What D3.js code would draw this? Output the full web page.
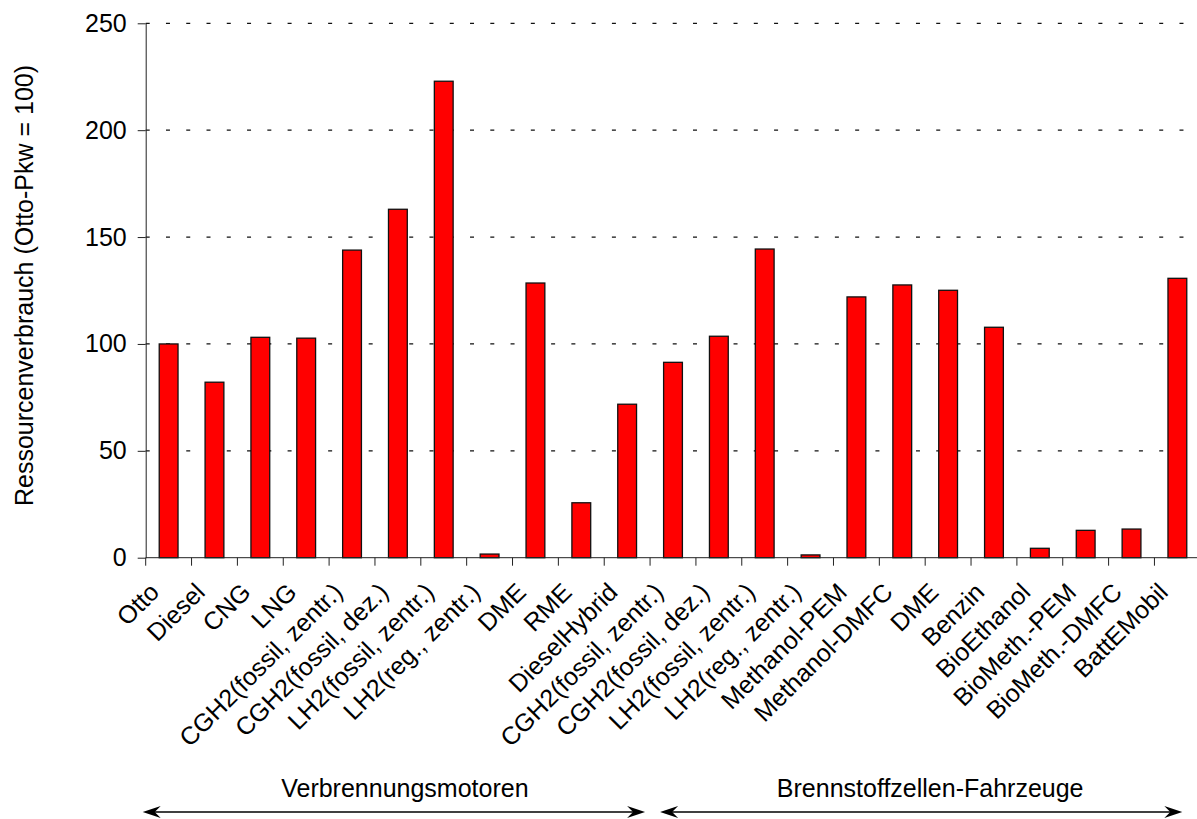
<!DOCTYPE html>
<html>
<head>
<meta charset="utf-8">
<script src="https://cdn.jsdelivr.net/npm/d3@7"></script>
<style>
  body { margin: 0; background: #fff; }
  svg text { font-family: "Liberation Sans", Arial, sans-serif; fill: #000; }
</style>
</head>
<body>
<svg id="chart" width="1197" height="819"></svg>
<script>
const categories = [
    "Otto", "Diesel", "CNG", "LNG",
    "CGH2(fossil, zentr.)", "CGH2(fossil, dez.)", "LH2(fossil, zentr.)", "LH2(reg., zentr.)",
    "DME", "RME", "DieselHybrid",
    "CGH2(fossil, zentr.)", "CGH2(fossil, dez.)", "LH2(fossil, zentr.)", "LH2(reg., zentr.)",
    "Methanol-PEM", "Methanol-DMFC", "DME", "Benzin", "BioEthanol",
    "BioMeth.-PEM", "BioMeth.-DMFC", "BattEMobil"
];
const values = [
    100, 82.1, 103.1, 102.7,
    143.9, 163, 222.9, 1.7,
    128.5, 25.7, 71.8,
    91.4, 103.6, 144.4, 1.3,
    122, 127.6, 125.1, 107.8, 4.4,
    12.8, 13.4, 130.7
];
const yTicks = [0, 50, 100, 150, 200, 250];
const groupNames = ["Verbrennungsmotoren", "Brennstoffzellen-Fahrzeuge"];
const groupStart = [0, 11];   // first category index of each group
const groupEnd = [11, 23];    // one past the last index
const yTitle = "Ressourcenverbrauch (Otto-Pkw = 100)";

const data = categories.map((c, i) => ({ id: i, name: c, value: values[i] }));

const svg = d3.select("#chart");
const plotLeft = 145.7, plotRight = 1200.3, plotTop = 23.3, plotBottom = 557.7;
const fontSize = 25;

// one cell per category, ticks go on the cell edges
const cell = d3.scaleBand().domain(data.map(d => d.id)).range([plotLeft, plotRight]).padding(0);
const xBar = d3.scaleBand().domain(data.map(d => d.id)).range([plotLeft, plotRight])
    .paddingInner(0.59).paddingOuter(0.295);
const y = d3.scaleLinear().domain([0, 250]).range([plotBottom, plotTop]);

function edge(i) {
    return i >= categories.length ? cell.range()[1] : cell(i);
}

// dashed grid
svg.append("g")
    .selectAll("line")
    .data(yTicks.filter(t => t > 0))
    .enter().append("line")
    .attr("x1", plotLeft).attr("x2", 1184)
    .attr("y1", d => y(d)).attr("y2", d => y(d))
    .attr("stroke", "#111")
    .attr("stroke-width", 1.2)
    .attr("stroke-dasharray", "4 16.27");

// bars
svg.append("g")
    .selectAll("rect")
    .data(data)
    .enter().append("rect")
    .attr("x", d => xBar(d.id))
    .attr("width", xBar.bandwidth())
    .attr("y", d => y(d.value))
    .attr("height", d => y(0) - y(d.value))
    .attr("fill", "#ff0000")
    .attr("stroke", "#111")
    .attr("stroke-width", 1.3);

// y axis
const yAxis = svg.append("g")
    .attr("transform", "translate(" + plotLeft + ",0)")
    .call(d3.axisLeft(y).tickValues(yTicks).tickSize(8).tickSizeOuter(0).tickPadding(11));
yAxis.select(".domain").attr("stroke", "#222");
yAxis.selectAll(".tick line").attr("stroke", "#222");
yAxis.selectAll(".tick text")
    .attr("font-size", fontSize)
    .attr("font-family", "Liberation Sans, Arial, sans-serif")
    .attr("fill", "#000");

// x axis line and ticks on cell edges
svg.append("line")
    .attr("x1", plotLeft).attr("x2", plotRight)
    .attr("y1", y(0)).attr("y2", y(0))
    .attr("stroke", "#222");

svg.append("g")
    .selectAll("line")
    .data(d3.range(categories.length + 1))
    .enter().append("line")
    .attr("x1", d => edge(d)).attr("x2", d => edge(d))
    .attr("y1", y(0)).attr("y2", y(0) + 8)
    .attr("stroke", "#222");

// rotated category labels
svg.append("g")
    .selectAll("text")
    .data(data)
    .enter().append("text")
    .attr("text-anchor", "end")
    .attr("font-size", fontSize)
    .attr("transform", d => "translate(" + (cell(d.id) + cell.bandwidth() / 2 - 8) + "," + (y(0) + 36) + ") rotate(-45)")
    .text(d => d.name);

// y title
svg.append("text")
    .attr("text-anchor", "middle")
    .attr("font-size", fontSize)
    .attr("transform", "translate(33," + ((plotTop + plotBottom) / 2 - 5) + ") rotate(-90)")
    .text(yTitle);

// group arrows
const arrowY = 812;
const groups = groupNames.map((n, i) => ({
    name: n,
    x1: edge(groupStart[i]) + (i === 0 ? -3 : 10),
    x2: edge(groupEnd[i]) - (i === 0 ? 5 : 18)
}));

const g = svg.append("g").selectAll("g").data(groups).enter().append("g");

g.append("line")
    .attr("x1", d => d.x1 + 6).attr("x2", d => d.x2 - 6)
    .attr("y1", arrowY).attr("y2", arrowY)
    .attr("stroke", "#000")
    .attr("stroke-width", 1.3);

function head(tip, dir) {
    const p = d3.path();
    p.moveTo(tip, arrowY);
    p.lineTo(tip + dir * 18, arrowY - 6);
    p.lineTo(tip + dir * 12, arrowY);
    p.lineTo(tip + dir * 18, arrowY + 6);
    p.closePath();
    return p.toString();
}
g.append("path").attr("d", d => head(d.x1, 1)).attr("fill", "#000");
g.append("path").attr("d", d => head(d.x2, -1)).attr("fill", "#000");

g.append("text")
    .attr("text-anchor", "middle")
    .attr("font-size", fontSize)
    .attr("x", (d, i) => (d.x1 + d.x2) / 2 + (i === 0 ? 11 : 9))
    .attr("y", 797)
    .text(d => d.name);
</script>
</body>
</html>
